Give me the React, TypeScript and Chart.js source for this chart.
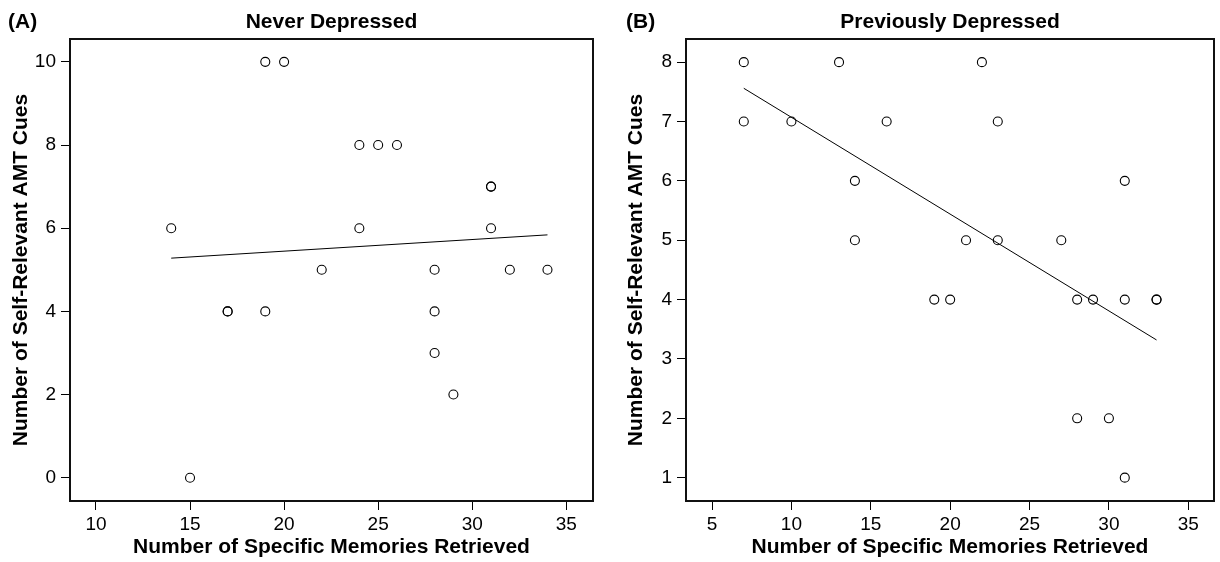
import React, { useEffect, useRef } from "react";
import { Chart, registerables } from "chart.js";

Chart.register(...registerables);

// ---------- data ----------
const A_X = [14, 15, 17, 17, 19, 20, 19, 22, 24, 25, 26, 24, 28, 28, 28, 29, 31, 31, 31, 32, 34];
const A_Y = [6, 0, 4, 4, 10, 10, 4, 5, 8, 8, 8, 6, 5, 4, 3, 2, 7, 7, 6, 5, 5];
const A_FIT_X = [14, 34];
const A_FIT_Y = [5.28, 5.84];
const A_X_TICKS = [10, 15, 20, 25, 30, 35];
const A_Y_TICKS = [0, 2, 4, 6, 8, 10];

const B_X = [7, 13, 22, 7, 10, 16, 23, 14, 31, 14, 21, 23, 27, 19, 20, 28, 29, 31, 33, 33, 28, 30, 31];
const B_Y = [8, 8, 8, 7, 7, 7, 7, 6, 6, 5, 5, 5, 5, 4, 4, 4, 4, 4, 4, 4, 2, 2, 1];
const B_FIT_X = [7, 33];
const B_FIT_Y = [7.56, 3.32];
const B_X_TICKS = [5, 10, 15, 20, 25, 30, 35];
const B_Y_TICKS = [1, 2, 3, 4, 5, 6, 7, 8];

const X_TITLE = "Number of Specific Memories Retrieved";
const Y_TITLE = "Number of Self-Relevant AMT Cues";

const FONT = "'Liberation Sans', Arial, Helvetica, sans-serif";

type Panel = {
  label: string;
  title: string;
  xs: number[];
  ys: number[];
  fitX: number[];
  fitY: number[];
  xTicks: number[];
  yTicks: number[];
  xMin: number;
  xMax: number;
  yMin: number;
  yMax: number;
  yWidth: number;
  padRight: number;
  yTitlePad: number;
  left: number;
};

const PANELS: Panel[] = [
  {
    label: "(A)",
    title: "Never Depressed",
    xs: A_X,
    ys: A_Y,
    fitX: A_FIT_X,
    fitY: A_FIT_Y,
    xTicks: A_X_TICKS,
    yTicks: A_Y_TICKS,
    xMin: 8.62,
    xMax: 36.42,
    yMin: -0.56,
    yMax: 10.55,
    yWidth: 70,
    padRight: 17,
    yTitlePad: 9,
    left: 0,
  },
  {
    label: "(B)",
    title: "Previously Depressed",
    xs: B_X,
    ys: B_Y,
    fitX: B_FIT_X,
    fitY: B_FIT_Y,
    xTicks: B_X_TICKS,
    yTicks: B_Y_TICKS,
    xMin: 3.36,
    xMax: 36.62,
    yMin: 0.607,
    yMax: 8.39,
    yWidth: 76,
    padRight: 6,
    yTitlePad: 14,
    left: 610,
  },
];

function PanelChart({ p }: { p: Panel }) {
  const ref = useRef<HTMLCanvasElement | null>(null);
  useEffect(() => {
    if (!ref.current) return;
    const decor = {
      id: "decor" + p.label,
      afterDraw(chart: any) {
        const { ctx, chartArea } = chart;
        ctx.save();
        ctx.strokeStyle = "#111";
        ctx.lineWidth = 2;
        ctx.strokeRect(
          chartArea.left,
          chartArea.top,
          chartArea.right - chartArea.left,
          chartArea.bottom - chartArea.top
        );
        ctx.fillStyle = "#000";
        ctx.font = `bold 21px ${FONT}`;
        ctx.textBaseline = "alphabetic";
        ctx.textAlign = "center";
        ctx.fillText(p.title, (chartArea.left + chartArea.right) / 2, 27.5);
        ctx.textAlign = "left";
        ctx.fillText(p.label, p.left === 0 ? 8 : 16, 27.5);
        ctx.restore();
      },
    };
    const tickFont = { family: FONT, size: 19 };
    const titleFont = { family: FONT, size: 21, weight: "bold" as const };
    const chart = new Chart(ref.current, {
      type: "scatter",
      data: {
        datasets: [
          {
            type: "line",
            data: p.fitX.map((x, i) => ({ x, y: p.fitY[i] })),
            borderColor: "#000",
            borderWidth: 1,
            pointRadius: 0,
            fill: false,
          } as any,
          {
            type: "scatter",
            data: p.xs.map((x, i) => ({ x, y: p.ys[i] })),
            pointRadius: 4.5,
            pointBorderWidth: 1.1,
            borderColor: "#000",
            backgroundColor: "rgba(0,0,0,0)",
            pointBorderColor: "#000",
            pointBackgroundColor: "rgba(0,0,0,0)",
          } as any,
        ],
      },
      options: {
        animation: false,
        responsive: false,
        devicePixelRatio: 1,
        layout: { padding: { left: 0, top: 39, right: p.padRight, bottom: 0 } },
        plugins: { legend: { display: false }, tooltip: { enabled: false } },
        scales: {
          x: {
            type: "linear",
            min: p.xMin,
            max: p.xMax,
            afterBuildTicks: (s: any) => {
              s.ticks = p.xTicks.map((v) => ({ value: v }));
            },
            afterFit: (s: any) => {
              s.height = 61;
            },
            grid: { drawOnChartArea: false, drawTicks: true, tickLength: 9, color: "#000", lineWidth: 1 },
            border: { display: false },
            ticks: { font: tickFont, color: "#000", padding: 3, maxRotation: 0, autoSkip: false },
            title: { display: true, text: X_TITLE, font: titleFont, color: "#000", padding: { top: 0, bottom: 2 } },
          },
          y: {
            type: "linear",
            min: p.yMin,
            max: p.yMax,
            afterBuildTicks: (s: any) => {
              s.ticks = p.yTicks.map((v) => ({ value: v }));
            },
            afterFit: (s: any) => {
              s.width = p.yWidth;
            },
            grid: { drawOnChartArea: false, drawTicks: true, tickLength: 9, color: "#000", lineWidth: 1 },
            border: { display: false },
            ticks: { font: tickFont, color: "#000", padding: 5, autoSkip: false },
            title: { display: true, text: Y_TITLE, font: titleFont, color: "#000", padding: { top: p.yTitlePad, bottom: 0 } },
          },
        },
      } as any,
      plugins: [decor],
    });
    return () => chart.destroy();
  }, [p]);
  return (
    <canvas
      ref={ref}
      width={610}
      height={562}
      style={{ position: "absolute", left: p.left, top: 0, width: 610, height: 562 }}
    />
  );
}

export default function App() {
  return (
    <div style={{ position: "fixed", left: 0, top: 0, width: 1220, height: 562, background: "#fff" }}>
      {PANELS.map((p) => (
        <PanelChart key={p.label} p={p} />
      ))}
    </div>
  );
}
